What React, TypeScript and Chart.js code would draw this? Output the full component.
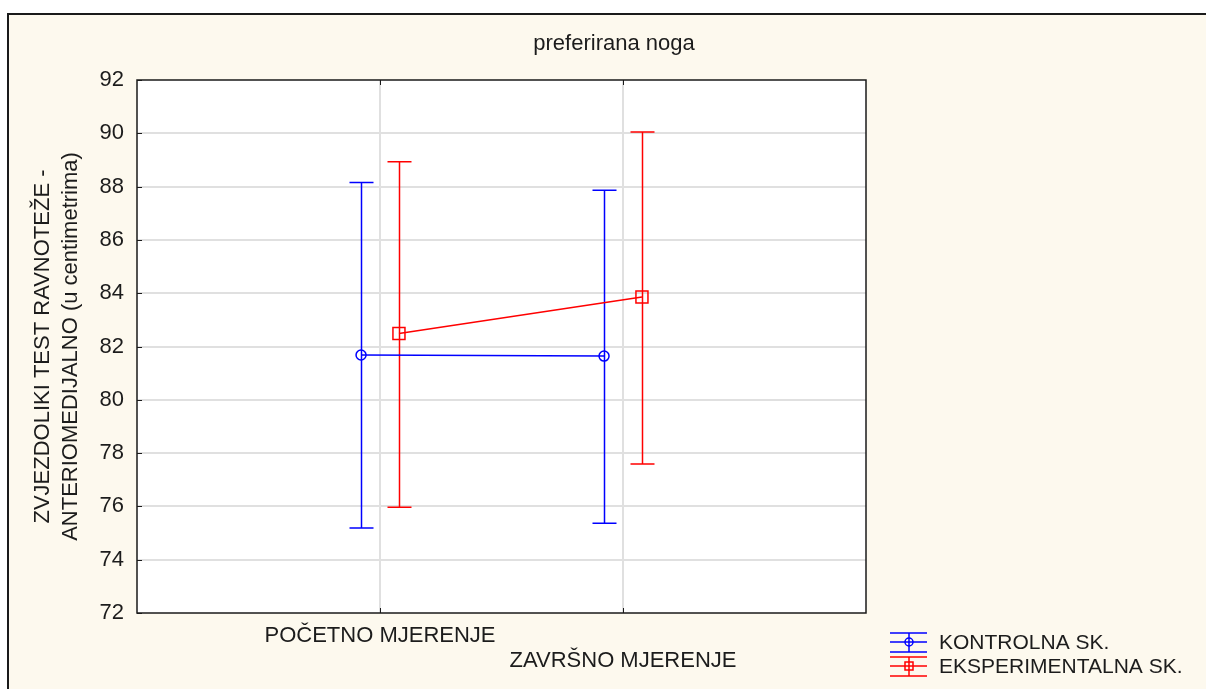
import React, { useEffect, useRef } from "react";
import { Chart, registerables } from "chart.js";

Chart.register(...registerables);

const chartTitle = "preferirana noga";
const categories = ["POČETNO MJERENJE", "ZAVRŠNO MJERENJE"];
const seriesNames = ["KONTROLNA SK.", "EKSPERIMENTALNA SK."];
const yTitleLines = ["ZVJEZDOLIKI TEST RAVNOTEŽE -", "ANTERIOMEDIJALNO (u centimetrima)"];

const kontrolnaMean = [81.68, 81.64];
const kontrolnaLow = [75.19, 75.37];
const kontrolnaHigh = [88.15, 87.86];

const eksperimentalnaMean = [82.49, 83.86];
const eksperimentalnaLow = [75.97, 77.59];
const eksperimentalnaHigh = [88.93, 90.05];

const yTicks = [72, 74, 76, 78, 80, 82, 84, 86, 88, 90, 92];

const FONT = "'Liberation Sans', Arial, sans-serif";
const TEXT = "#1c1c1c";
const BLUE = "#0000ff";
const RED = "#ff0000";
const GRID = "#e0e0e0";
const CREAM = "#fdf9ee";
const OFFSET = 0.078;

const seriesColors = [BLUE, RED];
const seriesStyles = ["circle", "rect"];

function buildPoints(means: number[], shift: number) {
  return means.map((m, i) => ({ x: i + 1 + shift, y: m }));
}

const decorPlugin = {
  id: "decor",
  beforeDraw(chart: any) {
    const { ctx, width, height, chartArea } = chart;
    ctx.save();
    ctx.fillStyle = "#ffffff";
    ctx.fillRect(0, 0, width, height);
    ctx.fillStyle = CREAM;
    ctx.fillRect(8, 14, width - 8, height - 14);
    ctx.strokeStyle = "#1a1a1a";
    ctx.lineWidth = 2;
    ctx.beginPath();
    ctx.moveTo(8, height);
    ctx.lineTo(8, 14);
    ctx.lineTo(width, 14);
    ctx.stroke();
    ctx.fillStyle = "#ffffff";
    ctx.fillRect(chartArea.left, chartArea.top, chartArea.right - chartArea.left, chartArea.bottom - chartArea.top);
    ctx.restore();
  },
  beforeDatasetsDraw(chart: any) {
    const { ctx } = chart;
    const yScale = chart.scales.y;
    ctx.save();
    chart.data.datasets.forEach((ds: any, di: number) => {
      const meta = chart.getDatasetMeta(di);
      ctx.strokeStyle = ds.borderColor;
      ctx.lineWidth = 1.5;
      meta.data.forEach((pt: any, i: number) => {
        const x = Math.round(pt.x) + 0.5;
        const yl = yScale.getPixelForValue(ds.errLow[i]);
        const yh = yScale.getPixelForValue(ds.errHigh[i]);
        ctx.beginPath();
        ctx.moveTo(x, yl);
        ctx.lineTo(x, yh);
        ctx.moveTo(x - 12, yl);
        ctx.lineTo(x + 12, yl);
        ctx.moveTo(x - 12, yh);
        ctx.lineTo(x + 12, yh);
        ctx.stroke();
      });
    });
    ctx.restore();
  },
  afterDraw(chart: any) {
    const { ctx, chartArea } = chart;
    const { left, right, top, bottom } = chartArea;
    const xScale = chart.scales.x;
    const yScale = chart.scales.y;
    ctx.save();
    // plot frame
    ctx.strokeStyle = "#1a1a1a";
    ctx.lineWidth = 1.5;
    ctx.strokeRect(left, top, right - left, bottom - top);
    // inward ticks
    ctx.lineWidth = 1;
    ctx.beginPath();
    yTicks.forEach((v) => {
      const y = Math.round(yScale.getPixelForValue(v)) + 0.5;
      ctx.moveTo(left, y);
      ctx.lineTo(left + 5, y);
    });
    categories.forEach((_, i) => {
      const x = Math.round(xScale.getPixelForValue(i + 1)) + 0.5;
      ctx.moveTo(x, bottom);
      ctx.lineTo(x, bottom - 5);
      ctx.moveTo(x, top);
      ctx.lineTo(x, top + 5);
    });
    ctx.stroke();

    // title
    ctx.fillStyle = TEXT;
    ctx.font = `22px ${FONT}`;
    ctx.textAlign = "center";
    ctx.textBaseline = "middle";
    ctx.fillText(chartTitle, 614, 44);

    // y axis title
    const cy = (top + bottom) / 2;
    yTitleLines.forEach((line, i) => {
      ctx.save();
      ctx.translate(43 + i * 28, cy);
      ctx.rotate(-Math.PI / 2);
      ctx.textAlign = "center";
      ctx.textBaseline = "middle";
      ctx.fillText(line, 0, 0);
      ctx.restore();
    });

    // legend
    seriesNames.forEach((name, i) => {
      const cyL = 642 + i * 24;
      const color = seriesColors[i];
      ctx.strokeStyle = color;
      ctx.lineWidth = 1.5;
      ctx.beginPath();
      ctx.moveTo(890, cyL - 9);
      ctx.lineTo(927, cyL - 9);
      ctx.moveTo(890, cyL);
      ctx.lineTo(927, cyL);
      ctx.moveTo(890, cyL + 10);
      ctx.lineTo(927, cyL + 10);
      ctx.moveTo(909, cyL - 9);
      ctx.lineTo(909, cyL + 10);
      ctx.stroke();
      ctx.beginPath();
      if (seriesStyles[i] === "circle") {
        ctx.arc(909, cyL, 4, 0, Math.PI * 2);
      } else {
        ctx.rect(905, cyL - 4, 8, 8);
      }
      ctx.stroke();
      ctx.fillStyle = TEXT;
      ctx.font = `21px ${FONT}`;
      ctx.textAlign = "left";
      ctx.textBaseline = "middle";
      ctx.fillText(name, 939, cyL + 1);
    });
    ctx.restore();
  },
};

export default function App() {
  const canvasRef = useRef<HTMLCanvasElement | null>(null);

  useEffect(() => {
    const canvas = canvasRef.current;
    if (!canvas) return;
    const chart = new Chart(canvas, {
      type: "line",
      data: {
        datasets: [
          {
            label: seriesNames[0],
            data: buildPoints(kontrolnaMean, -OFFSET),
            errLow: kontrolnaLow,
            errHigh: kontrolnaHigh,
            borderColor: BLUE,
            backgroundColor: BLUE,
            borderWidth: 1.5,
            pointStyle: "circle",
            pointRadius: 5,
            pointBorderWidth: 1.5,
            pointBorderColor: BLUE,
            pointBackgroundColor: "rgba(0,0,0,0)",
            tension: 0,
          } as any,
          {
            label: seriesNames[1],
            data: buildPoints(eksperimentalnaMean, OFFSET),
            errLow: eksperimentalnaLow,
            errHigh: eksperimentalnaHigh,
            borderColor: RED,
            backgroundColor: RED,
            borderWidth: 1.5,
            pointStyle: "rect",
            pointRadius: 8.5,
            pointBorderWidth: 1.5,
            pointBorderColor: RED,
            pointBackgroundColor: "rgba(0,0,0,0)",
            tension: 0,
          } as any,
        ],
      },
      options: {
        animation: false,
        responsive: false,
        devicePixelRatio: 1,
        layout: { padding: { left: 0, top: 80, right: 340, bottom: 0 } },
        plugins: {
          legend: { display: false },
          title: { display: false },
          tooltip: { enabled: false },
        },
        scales: {
          x: {
            type: "linear",
            min: 0,
            max: categories.length + 1,
            afterFit(scale: any) {
              scale.height = 76;
            },
            afterBuildTicks(scale: any) {
              scale.ticks = [0, 1, 2, 3].map((v) => ({ value: v }));
            },
            border: { display: false },
            grid: {
              drawTicks: false,
              lineWidth: 2,
              color: (c: any) => {
                const v = c.tick ? c.tick.value : -1;
                return v >= 1 && v <= categories.length ? GRID : "rgba(0,0,0,0)";
              },
            },
            ticks: {
              autoSkip: false,
              maxRotation: 0,
              minRotation: 0,
              padding: 10,
              color: TEXT,
              font: { family: FONT, size: 22, lineHeight: "25px" },
              callback: (v: any) => {
                if (v === 1) return [categories[0], ""];
                if (v === 2) return ["", categories[1]];
                return "";
              },
            },
          },
          y: {
            type: "linear",
            min: yTicks[0],
            max: yTicks[yTicks.length - 1],
            afterFit(scale: any) {
              scale.width = 137;
            },
            afterBuildTicks(scale: any) {
              scale.ticks = yTicks.map((v) => ({ value: v }));
            },
            border: { display: false },
            grid: {
              drawTicks: false,
              lineWidth: 2,
              color: (c: any) => {
                const v = c.tick ? c.tick.value : -1;
                return v === yTicks[0] || v === yTicks[yTicks.length - 1] ? "rgba(0,0,0,0)" : GRID;
              },
            },
            ticks: {
              padding: 13,
              color: TEXT,
              font: { family: FONT, size: 22 },
              callback: (v: any) => String(v),
            },
          },
        },
      } as any,
      plugins: [decorPlugin],
    });
    return () => chart.destroy();
  }, []);

  return (
    <div style={{ position: "absolute", left: 0, top: 0, width: 1206, height: 689 }}>
      <canvas ref={canvasRef} width={1206} height={689} style={{ display: "block", width: 1206, height: 689 }} />
    </div>
  );
}
